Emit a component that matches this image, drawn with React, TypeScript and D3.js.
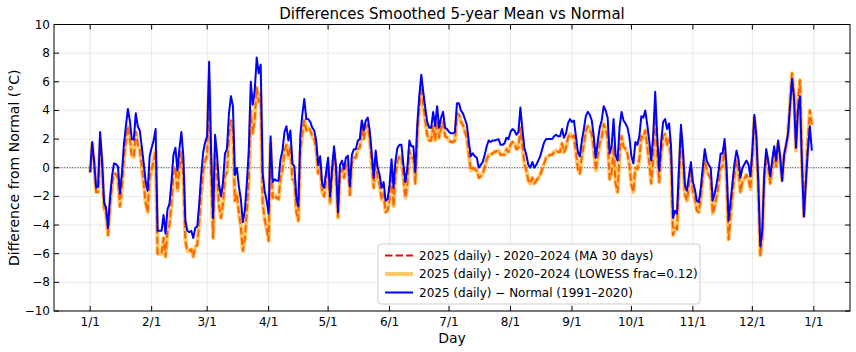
import React from 'react';
import * as d3 from 'd3';

// Day index 0 = 1 Jan 2025 ... 364 = 31 Dec 2025
const dailyVsNormal: number[] = [
  -0.3, 1.8, 0.4, -1.4, -1.3, 2.5, 0.5, -2.4, -2.8, -4.2,
  -2.1, -0.6, 0.3, 0.25, 0.1, -1.8, -0.4, 1.6, 2.9, 4.1,
  3.3, 2.0, 1.95, 3.8, 2.9, 2.6, 1.5, 0.3, -1.0, -1.6,
  0.8, 1.4, 1.9, 2.7, -4.4, -4.4, -4.4, -3.3, -4.6, -2.9,
  -2.5, -1.0, 0.9, 1.4, -0.2, 1.3, 2.5, 0.8, -3.7, -4.4,
  -4.5, -4.4, -4.9, -4.2, -4.1, -2.5, -0.5, 1.1, 1.8, 2.2,
  7.4, 1.0, -3.5, 2.3, 0.9, -1.2, -2.0, -1.0, 1.0, 1.3,
  3.8, 5.0, 4.3, -0.5, 0.0, -1.3, -2.2, -3.8, -3.0, -1.1,
  1.2, 6.0, 4.4, 5.4, 7.7, 6.6, 7.2, -0.4, -1.6, -2.3,
  -3.2, 2.2, -1.0, -0.8, -0.9, -0.9, 0.6, 1.2, 2.5, 2.9,
  1.9, 2.6, 0.3, 0.1, -2.1, -2.7, 2.3, 3.7, 4.8, 3.4,
  3.4, 3.2, 2.8, 2.6, 1.9, 0.2, 0.8, -1.1, -1.4, -0.3,
  0.7, -2.0, -0.1, 1.5, 0.1, -3.1, 0.2, 0.5, -0.1, 0.7,
  0.85, -1.3, 0.9, 1.3, 1.3, 1.9, 2.0, 3.3, 2.6, 3.3,
  3.5, 2.6, 1.0, -0.7, 1.2, 0.0, -0.5, -1.4, -1.0, -2.3,
  -2.2, -1.2, 0.6, -1.4, 0.5, 1.4, 1.6, 1.6, 0.2, -1.0,
  0.0, 1.9, 1.5, 1.5, -0.3, 3.0, 5.0, 6.5, 5.3, 4.2,
  3.2, 2.8, 2.8, 3.9, 2.9, 4.3, 2.8, 3.5, 3.9, 2.8,
  2.7, 2.5, 2.4, 2.4, 2.5, 4.5, 4.5, 4.0, 3.8, 3.4,
  3.0, 1.8, 0.8, 1.0, 0.8, 0.7, 0.0, 0.2, 0.4, 0.9,
  1.5, 1.9, 1.8, 1.9, 1.9, 1.95, 2.0, 1.6, 1.6, 1.7,
  2.1, 2.0, 2.5, 2.7, 2.6, 2.3, 2.5, 4.2, 2.7, 1.4,
  0.9, 0.2, 0.0, 0.4, 0.0, 0.2, 0.5, 0.8, 1.3, 1.8,
  2.0, 2.0, 2.0, 2.0, 2.2, 2.3, 2.2, 2.2, 2.7, 2.1,
  2.4, 3.1, 3.4, 3.2, 3.3, 2.2, 1.1, 0.8, 1.9, 2.7,
  3.6, 3.9, 3.7, 3.3, 2.2, 0.7, 1.8, 2.8, 3.3, 4.3,
  4.0, 3.5, 1.0, 1.5, 3.4, 0.9, 0.5, 2.8, 3.9, 3.3,
  3.1, 2.8, 2.1, 0.8, 0.3, 1.8, 1.6, 2.2, 3.6, 3.5,
  4.0, 3.0, 1.9, 0.5, 2.3, 5.3, 2.2, -0.2, 1.8, 3.2,
  3.4, 2.7, 3.1, 1.5, -3.5, -3.0, -3.2, 0.0, 3.0, 1.2,
  -1.2, -1.6, -0.6, 0.4, -1.0, -1.5, -2.3, -2.4, -1.4, 0.0,
  1.3, 0.5, 0.2, 0.0, -2.3, -1.8, -1.1, -0.2, 1.0, 1.0,
  2.0, 0.0, -3.7, -2.4, -1.0, 0.3, 1.2, 0.6, -0.7, 0.0,
  0.25, 0.5, 0.25, -0.6, 1.2, 3.7, 2.3, -1.0, -5.5, -4.4,
  -0.4, 1.3, 0.5, -0.6, 0.5, 1.5, 0.5, 1.9, 0.8, -0.9,
  0.9, 1.6, 2.4, 4.3, 6.2, 4.9, 1.4, 4.0, 5.0, 0.3,
  -3.4, -1.0, 1.2, 2.9, 1.2,
];

const dailyVsMA30: number[] = [
  -0.35, 1.7, 0.3, -1.7, -1.7, 1.8, 0.1, -2.8, -3.2, -4.7,
  -2.7, -1.2, -0.4, -0.45, -0.7, -2.7, -1.4, 0.6, 1.8, 2.9,
  2.1, 0.8, 0.75, 2.5, 1.6, 1.3, 0.15, -1.1, -2.45, -3.1,
  -0.7, -0.1, 0.4, 1.2, -6.0, -6.0, -6.0, -4.9, -6.2, -4.45,
  -4.0, -2.45, -0.5, 0.0, -1.6, -0.1, 1.1, -0.6, -5.1, -5.8,
  -5.8, -5.7, -6.2, -5.5, -5.4, -3.8, -1.8, -0.2, 0.5, 0.85,
  6.05, -0.4, -4.9, 0.85, -0.55, -2.7, -3.5, -2.5, -0.55, -0.3,
  2.1, 3.3, 2.55, -2.3, -1.8, -3.15, -4.1, -5.8, -5.0, -3.1,
  -0.8, 4.0, 2.4, 3.4, 5.6, 4.6, 5.2, -2.4, -3.6, -4.25,
  -5.1, 1.7, -2.1, -1.9, -2.1, -2.2, -0.7, -0.1, 1.2, 1.6,
  0.7, 1.5, -0.8, -0.9, -3.1, -3.7, 1.1, 2.4, 3.3, 2.6,
  2.8, 2.6, 2.2, 2.0, 1.3, -0.4, 0.2, -1.7, -2.0, -0.9,
  0.2, -2.5, -0.6, 1.0, -0.4, -3.5, -0.3, -0.1, -0.7, 0.1,
  0.25, -1.9, 0.3, 0.7, 0.7, 1.3, 1.4, 2.7, 2.0, 2.8,
  3.0, 2.0, 0.3, -1.4, 0.5, -0.7, -1.2, -2.2, -1.8, -3.1,
  -3.0, -2.2, -0.4, -2.7, -0.5, 0.5, 0.8, 0.8, -0.7, -2.1,
  -1.1, 1.2, 0.7, 0.7, -1.1, 2.2, 4.2, 5.7, 4.45, 3.3,
  2.3, 1.9, 1.9, 2.9, 1.9, 3.3, 2.1, 2.8, 3.2, 2.2,
  2.1, 1.9, 1.8, 1.8, 1.9, 3.8, 3.7, 3.2, 3.0, 2.5,
  2.1, 0.9, -0.2, 0.0, -0.1, -0.2, -0.7, -0.6, -0.4, 0.0,
  0.6, 0.9, 0.9, 1.0, 1.1, 1.15, 1.2, 0.9, 0.9, 0.9,
  1.3, 1.1, 1.6, 1.8, 1.7, 1.3, 1.4, 2.8, 1.5, 0.3,
  -0.2, -0.9, -1.1, -0.7, -1.1, -0.9, -0.7, -0.5, -0.1, 0.3,
  0.7, 0.8, 0.9, 0.9, 1.1, 1.2, 1.1, 1.1, 1.7, 1.1,
  1.4, 2.1, 2.35, 2.15, 2.25, 1.1, -0.1, -0.4, 0.8, 1.6,
  2.6, 2.9, 2.7, 2.3, 1.3, -0.2, 0.8, 1.7, 2.1, 3.05,
  2.7, 2.1, -0.8, -0.4, 1.5, -1.1, -1.7, 0.9, 2.2, 1.5,
  1.3, 1.0, 0.2, -1.2, -1.7, 0.0, -0.1, 0.6, 2.2, 2.1,
  2.6, 1.5, 0.4, -1.1, 0.7, 3.6, 0.9, -1.0, 0.9, 2.2,
  2.35, 1.6, 2.0, 0.4, -4.7, -4.2, -4.3, -0.8, 2.4, 0.6,
  -1.9, -2.3, -1.25, -0.2, -1.65, -2.15, -3.0, -3.1, -2.1, -0.7,
  0.6, -0.2, -0.5, -0.8, -3.2, -2.7, -2.0, -1.1, 0.0, 0.1,
  1.5, -0.8, -5.0, -3.4, -1.9, -0.5, 0.5, -0.2, -1.7, -1.0,
  -0.75, -0.5, -0.75, -1.5, 0.6, 3.5, 1.9, -1.5, -6.1, -4.9,
  -0.9, 0.8, 0.0, -1.1, 0.0, 1.0, 0.1, 1.7, 0.6, -0.9,
  0.8, 1.5, 2.3, 4.5, 6.6, 5.2, 1.2, 4.8, 6.1, 0.6,
  -3.4, -0.5, 2.0, 4.0, 3.0,
];

const dailyVsLowess: number[] = [
  -0.35, 1.7, 0.3, -1.7, -1.7, 1.8, 0.1, -2.8, -3.2, -4.7,
  -2.7, -1.2, -0.4, -0.45, -0.7, -2.7, -1.4, 0.6, 1.8, 2.9,
  2.1, 0.8, 0.75, 2.5, 1.6, 1.3, 0.15, -1.1, -2.45, -3.1,
  -0.7, -0.1, 0.4, 1.2, -6.0, -6.0, -6.0, -4.9, -6.2, -4.45,
  -4.0, -2.45, -0.5, 0.0, -1.6, -0.1, 1.1, -0.6, -5.1, -5.8,
  -5.8, -5.7, -6.2, -5.5, -5.4, -3.8, -1.8, -0.2, 0.5, 0.85,
  6.05, -0.4, -4.9, 0.85, -0.55, -2.7, -3.5, -2.5, -0.55, -0.3,
  2.1, 3.3, 2.55, -2.3, -1.8, -3.15, -4.1, -5.8, -5.0, -3.1,
  -0.8, 4.0, 2.4, 3.4, 5.6, 4.6, 5.2, -2.4, -3.6, -4.25,
  -5.1, 1.7, -2.1, -1.9, -2.1, -2.2, -0.7, -0.1, 1.2, 1.6,
  0.7, 1.5, -0.8, -0.9, -3.1, -3.7, 1.1, 2.4, 3.3, 2.6,
  2.8, 2.6, 2.2, 2.0, 1.3, -0.4, 0.2, -1.7, -2.0, -0.9,
  0.2, -2.5, -0.6, 1.0, -0.4, -3.5, -0.3, -0.1, -0.7, 0.1,
  0.25, -1.9, 0.3, 0.7, 0.7, 1.3, 1.4, 2.7, 2.0, 2.8,
  3.0, 2.0, 0.3, -1.4, 0.5, -0.7, -1.2, -2.2, -1.8, -3.1,
  -3.0, -2.2, -0.4, -2.7, -0.5, 0.5, 0.8, 0.8, -0.7, -2.1,
  -1.1, 1.2, 0.7, 0.7, -1.1, 2.2, 4.2, 5.7, 4.45, 3.3,
  2.3, 1.9, 1.9, 2.9, 1.9, 3.3, 2.1, 2.8, 3.2, 2.2,
  2.1, 1.9, 1.8, 1.8, 1.9, 3.8, 3.7, 3.2, 3.0, 2.5,
  2.1, 0.9, -0.2, 0.0, -0.1, -0.2, -0.7, -0.6, -0.4, 0.0,
  0.6, 0.9, 0.9, 1.0, 1.1, 1.15, 1.2, 0.9, 0.9, 0.9,
  1.3, 1.1, 1.6, 1.8, 1.7, 1.3, 1.4, 2.8, 1.5, 0.3,
  -0.2, -0.9, -1.1, -0.7, -1.1, -0.9, -0.7, -0.5, -0.1, 0.3,
  0.7, 0.8, 0.9, 0.9, 1.1, 1.2, 1.1, 1.1, 1.7, 1.1,
  1.4, 2.1, 2.35, 2.15, 2.25, 1.1, -0.1, -0.4, 0.8, 1.6,
  2.6, 2.9, 2.7, 2.3, 1.3, -0.2, 0.8, 1.7, 2.1, 3.05,
  2.7, 2.1, -0.8, -0.4, 1.5, -1.1, -1.7, 0.9, 2.2, 1.5,
  1.3, 1.0, 0.2, -1.2, -1.7, 0.0, -0.1, 0.6, 2.2, 2.1,
  2.6, 1.5, 0.4, -1.1, 0.7, 3.6, 0.9, -1.0, 0.9, 2.2,
  2.35, 1.6, 2.0, 0.4, -4.7, -4.2, -4.3, -0.8, 2.4, 0.6,
  -1.9, -2.3, -1.25, -0.2, -1.65, -2.15, -3.0, -3.1, -2.1, -0.7,
  0.6, -0.2, -0.5, -0.8, -3.2, -2.7, -2.0, -1.1, 0.0, 0.1,
  1.5, -0.8, -5.0, -3.4, -1.9, -0.5, 0.5, -0.2, -1.7, -1.0,
  -0.75, -0.5, -0.75, -1.5, 0.6, 3.5, 1.9, -1.5, -6.1, -4.9,
  -0.9, 0.8, 0.0, -1.1, 0.0, 1.0, 0.1, 1.7, 0.6, -0.9,
  0.8, 1.5, 2.3, 4.5, 6.6, 5.2, 1.2, 4.8, 6.1, 0.6,
  -3.4, -0.5, 2.0, 4.0, 3.0,
];

const monthTickDays: number[] = [0, 31, 59, 90, 120, 151, 181, 212, 243, 273, 304, 334, 365];
const monthTickLabels: string[] = ['1/1', '2/1', '3/1', '4/1', '5/1', '6/1', '7/1', '8/1', '9/1', '10/1', '11/1', '12/1', '1/1'];
const yTickValues: number[] = [-10, -8, -6, -4, -2, 0, 2, 4, 6, 8, 10];

const legendLabels: string[] = [
  '2025 (daily) - 2020–2024 (MA 30 days)',
  '2025 (daily) - 2020–2024 (LOWESS frac=0.12)',
  '2025 (daily) − Normal (1991–2020)',
];

const FONT = 'DejaVu Sans, sans-serif';

export default function App() {
  const W = 856;
  const H = 352;
  const left = 54;
  const right = 850;
  const top = 24.5;
  const bottom = 311;

  const x = d3.scaleLinear().domain([-18.25, 383.25]).range([left, right]);
  const y = d3.scaleLinear().domain([-10, 10]).range([bottom, top]);

  const line = d3
    .line<number>()
    .x((_, i) => x(i))
    .y((d) => y(d));

  const fmt = (v: number) => (v < 0 ? '\u2212' + Math.abs(v) : String(v));
  const tickLen = 5;

  const lgX = 378;
  const lgY = 244;
  const lgW = 322;
  const lgH = 60;
  const rowY = [255.5, 274, 292.5];

  return (
    <svg
      width={W}
      height={H}
      style={{ position: 'absolute', left: 0, top: 0, background: '#fff' }}
      fontFamily={FONT}
    >
      <defs>
        <clipPath id="plotClip">
          <rect x={left} y={top} width={right - left} height={bottom - top} />
        </clipPath>
      </defs>
      <rect x={0} y={0} width={W} height={H} fill="#fff" />

      {/* grid */}
      <g stroke="#b0b0b0" strokeOpacity={0.35} strokeWidth={0.8}>
        {monthTickDays.map((d, i) => (
          <line key={'gx' + i} x1={x(d)} x2={x(d)} y1={top} y2={bottom} />
        ))}
        {yTickValues.map((v, i) => (
          <line key={'gy' + i} x1={left} x2={right} y1={y(v)} y2={y(v)} />
        ))}
      </g>

      {/* zero line */}
      <line x1={left} x2={right} y1={y(0)} y2={y(0)} stroke="#000" strokeWidth={0.8} strokeDasharray="1,1.6" />

      <g clipPath="url(#plotClip)" fill="none" strokeLinejoin="round">
        <path d={line(dailyVsMA30) || ''} stroke="#ff0000" strokeWidth={2} strokeDasharray="7.4,3.2" />
        <path d={line(dailyVsLowess) || ''} stroke="#ffa500" strokeOpacity={0.6} strokeWidth={4} />
        <path d={line(dailyVsNormal) || ''} stroke="#0000ff" strokeWidth={2} />
      </g>

      {/* frame */}
      <rect x={left} y={top} width={right - left} height={bottom - top} fill="none" stroke="#000" strokeWidth={1} />

      {/* ticks */}
      <g stroke="#000" strokeWidth={1}>
        {monthTickDays.map((d, i) => (
          <g key={'tx' + i}>
            <line x1={x(d)} x2={x(d)} y1={bottom} y2={bottom - tickLen} />
            <line x1={x(d)} x2={x(d)} y1={top} y2={top + tickLen} />
          </g>
        ))}
        {yTickValues.map((v, i) => (
          <g key={'ty' + i}>
            <line x1={left} x2={left + tickLen} y1={y(v)} y2={y(v)} />
            <line x1={right} x2={right - tickLen} y1={y(v)} y2={y(v)} />
          </g>
        ))}
      </g>

      {/* tick labels */}
      <g fontSize={12} fill="#000">
        {monthTickDays.map((d, i) => (
          <text key={'lx' + i} x={x(d)} y={bottom + 15} textAnchor="middle">
            {monthTickLabels[i]}
          </text>
        ))}
        {yTickValues.map((v, i) => (
          <text key={'ly' + i} x={left - 4} y={y(v)} textAnchor="end" dominantBaseline="central">
            {fmt(v)}
          </text>
        ))}
      </g>

      {/* axis labels */}
      <text x={(left + right) / 2} y={343} textAnchor="middle" fontSize={14}>
        Day
      </text>
      <text
        transform={`translate(19,${(top + bottom) / 2}) rotate(-90)`}
        textAnchor="middle"
        fontSize={14}
      >
        Difference from Normal (°C)
      </text>

      {/* title */}
      <text x={(left + right) / 2} y={19} textAnchor="middle" fontSize={15}>
        Differences Smoothed 5-year Mean vs Normal
      </text>

      {/* legend */}
      <g>
        <rect x={lgX} y={lgY} width={lgW} height={lgH} rx={3} fill="#fff" fillOpacity={0.8} stroke="#cccccc" strokeWidth={1} />
        <line x1={lgX + 7} x2={lgX + 35} y1={rowY[0]} y2={rowY[0]} stroke="#ff0000" strokeWidth={2} strokeDasharray="7.4,3.2" />
        <line x1={lgX + 7} x2={lgX + 35} y1={rowY[1]} y2={rowY[1]} stroke="#ffa500" strokeOpacity={0.6} strokeWidth={4} />
        <line x1={lgX + 7} x2={lgX + 35} y1={rowY[2]} y2={rowY[2]} stroke="#0000ff" strokeWidth={2} />
        {legendLabels.map((t, i) => (
          <text key={'lg' + i} x={lgX + 41} y={rowY[i]} dominantBaseline="central" fontSize={12}>
            {t}
          </text>
        ))}
      </g>
    </svg>
  );
}
